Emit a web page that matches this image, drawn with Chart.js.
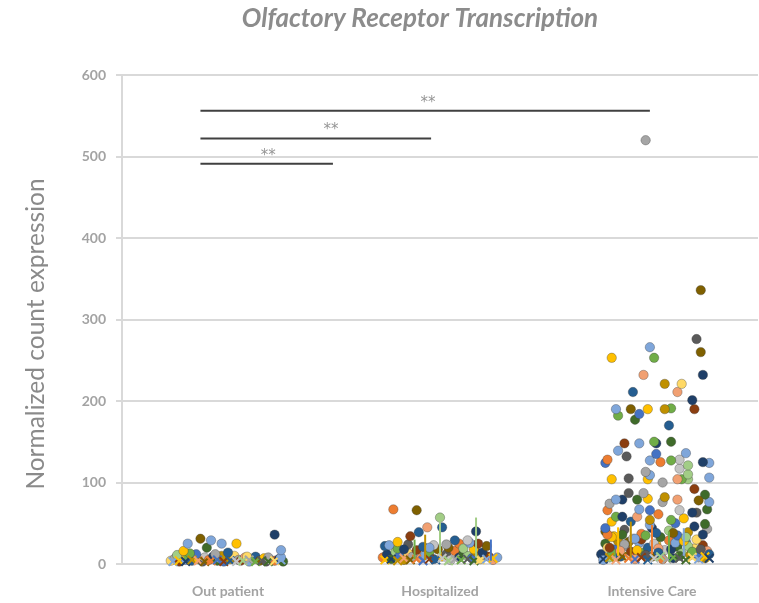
<!DOCTYPE html>
<html>
<head>
<meta charset="utf-8">
<script src="https://cdn.jsdelivr.net/npm/chart.js@4/dist/chart.umd.min.js"></script>
<style>
  html, body { margin: 0; padding: 0; background: #fff; overflow: hidden; }
  canvas { display: block; }
</style>
</head>
<body>
<canvas id="graficoOR" width="759" height="603"></canvas>
<script>
var categories = ['Out patient', 'Hospitalized', 'Intensive Care'];

/* Out patient */
var outX = [0.22,-0.13,-0.08,-0.19,-0.03,0.04,-0.10,-0.21,0.25,-0.18,0.00,-0.06,0.25,
  -0.27,-0.25,-0.23,-0.22,-0.20,-0.19,-0.17,-0.16,-0.14,-0.12,-0.11,-0.09,-0.07,-0.05,-0.04,-0.02,0.01,0.03,0.05,0.06,
  0.08,0.10,0.12,0.13,0.15,0.17,0.18,0.20,0.22,0.24,0.26,-0.24,-0.15,-0.03,0.09,0.19];
var outY = [36,31,29,25,25,25,20,16,17,13,14,12,8,
  4,7,3,9,5,8,4,10,6,3,8,5,9,4,7,3,6,10,5,4,
  8,3,6,9,4,7,3,5,4,6,3,11,12,10,9,8];
var outC = ['NB','OL','LB','LB','LB','Y','DGR','Y','LB','GR','DB','G','LB'];

/* Hospitalized */
var hospX = [0.78,0.89,1.00,1.01,0.94,0.86,0.90,1.17,1.07,0.80,0.76,1.03,1.13,1.14,1.18,1.22,0.74,0.95,1.11,0.83,
  0.73,0.75,0.77,0.79,0.81,0.83,0.85,0.87,0.89,0.91,0.93,0.95,0.97,0.99,1.01,1.03,1.05,1.07,1.09,1.11,
  1.13,1.15,1.17,1.19,1.21,1.23,1.25,1.27,0.80,0.92,1.04,1.16,0.85,0.97,1.09,1.20];
var hospY = [67,66,57,45,45,34,39,40,29,27,23,24,29,26,25,22,22,20,19,18,
  8,12,6,15,10,5,13,9,17,7,11,14,6,18,9,12,5,16,8,13,
  10,7,15,6,11,9,5,8,19,21,20,18,24,23,25,14];
var hospC = ['O','OL','LGR','DB','LO','BR','DB','NB','DB','Y','LB','G','LG','LB','BR','OL','DB','LB','LGR','NB'];

/* Intensive Care */
var icuX = [1.97,2.23,2.21,2.23,1.99,1.81,2.01,1.96,2.24,2.06,2.14,1.91,2.12,2.19,1.83,1.90,1.94,1.98,2.06,2.09,
  2.20,1.84,1.92,2.08,1.87,1.94,2.01,2.02,2.09,1.84,2.02,1.88,2.16,1.79,1.78,1.99,2.04,2.09,2.13,2.24,
  2.27,2.17,2.13,1.97,1.99,2.17,1.81,1.89,1.98,2.05,2.12,2.14,2.17,2.27,2.20,1.89,1.96,2.06,1.98,1.83,
  1.86,1.93,2.12,2.22,2.25,2.27,1.80,2.05,1.79,2.13,2.26,1.94,1.99,2.19,2.21,2.03,1.93,2.15,1.86,1.83,
  2.25,2.09,2.11,1.90,1.81,1.99,1.99,1.78,2.20,1.79,2.02,2.24,2.16,1.86,1.81,
  1.76,1.78,1.80,1.82,1.84,1.86,1.88,1.90,1.92,1.94,1.96,1.98,2.00,2.02,2.04,2.06,2.08,2.10,2.12,2.14,
  2.16,2.18,2.20,2.22,2.24,2.26,1.77,1.81,1.85,1.89,1.93,1.97,2.01,2.05,2.09,2.13,2.17,2.21,2.25,1.79,
  1.87,1.95,2.03,2.11,2.19,2.27,
  1.78,1.82,1.87,1.91,1.95,2.00,2.04,2.08,2.12,2.17,2.21,2.26,1.80,1.85,1.92,1.97,2.03,2.10,2.15,2.23];
var icuY = [520,336,276,260,266,253,253,232,232,221,221,211,211,201,190,190,184,190,190,191,
  190,182,177,170,148,148,150,148,150,139,135,132,136,128,124,127,125,127,128,125,
  124,121,117,113,109,110,104,105,104,100,104,104,104,106,92,87,87,82,80,79,
  79,79,79,78,85,76,74,76,66,66,67,67,66,63,63,61,58,56,58,58,
  49,54,50,52,52,54,48,44,46,36,38,36,33,36,33,
  12,25,8,18,28,10,22,15,6,26,14,20,9,24,12,17,29,7,21,13,
  27,11,19,8,23,16,5,14,9,27,17,11,25,6,18,10,22,13,7,20,
  24,30,19,26,15,12,
  40,34,42,31,37,44,33,41,35,39,30,43,20,16,31,35,14,38,28,18];
var icuC = ['G','OL','DG','OL','LB','Y','GR','LO','NB','DY','LY','DB','LO','NB','LB','OL','B','Y','DY','GR',
  'BR','GR','DGR','DB','BR','LB','GR','NB','DGR','LB','B','DG','LB','O','B','LB','O','GR','LG','NB',
  'LB','LGR','LG','G','LB','LGR','Y','DG','Y','G','LO','GR','LGR','LB','BR','DG','G','DY','Y','LB',
  'NB','DGR','LO','OL','DGR','LB','G','G','O','LG','DGR','LB','B','NB','DG','O','LO','Y','NB','GR',
  'DGR','GR','B','DB','Y','DY','LB','B','NB','O','DB','NB','LGR','DGR','Y'];

/* error bar caps near zero */
var capX = [-0.26,-0.23,-0.20,-0.17,-0.14,-0.11,-0.08,-0.05,-0.02,0.01,0.04,0.07,0.10,0.13,0.16,0.19,0.22,0.25,
  0.74,0.77,0.80,0.83,0.86,0.89,0.92,0.95,0.98,1.01,1.04,1.07,1.10,1.13,1.16,1.19,1.22,1.25,
  1.77,1.80,1.83,1.86,1.89,1.92,1.95,1.98,2.01,2.04,2.07,2.10,2.13,2.16,2.19,2.22,2.25,2.27];
var capY = [3,4,3,5,4,3,4,5,3,4,3,4,5,3,4,3,4,5,
  5,6,4,7,5,6,4,6,5,7,4,6,5,6,4,5,6,7,
  6,8,5,9,7,6,8,5,7,9,6,8,7,5,8,6,9,7];

/* error bar stems */
var stemX = [0.88, 0.93, 1.00, 1.17, 1.24, 1.84, 1.90, 2.00, 2.08, 2.15];
var stemLow = [6, 5, 12, 8, 4, 10, 8, 12, 6, 10];
var stemHigh = [30, 36, 57, 57, 30, 45, 52, 48, 40, 44];

/* significance bars */
var sigFrom = [-0.13, -0.13, -0.13];
var sigTo = [0.495, 0.958, 1.99];
var sigY = [491, 522, 556];
var sigLabelX = [0.19, 0.486, 0.943];
var sigLabel = ['**', '**', '**'];

var pal = {
  B: '#4472C4', LB: '#7FA6DA', NB: '#1F3F68', DB: '#255E91',
  O: '#ED7D31', LO: '#F1A072', BR: '#8B3E10',
  G: '#A5A5A5', LG: '#C4C4C4', DG: '#5A5A5A',
  Y: '#FFC000', LY: '#FFD966', DY: '#BF9000', OL: '#7F6000',
  GR: '#70AD47', LGR: '#A2CD86', DGR: '#3F6B2A'
};
var cycle = ['LB','O','G','Y','B','GR','NB','BR','DG','DY','DB','DGR','LO','LG','LY','OL','LGR'];
var stemCols = ['GR','DY','LGR','LGR','B','Y','DY','O','GR','LB'];

function pointColors(codes, n, shift) {
  var out = [];
  for (var i = 0; i < n; i++) {
    out.push(codes[i] ? pal[codes[i]] : pal[cycle[(i * 5 + shift) % cycle.length]]);
  }
  return out;
}

function toPoints(xs, ys) {
  return xs.map(function (x, i) { return { x: x, y: ys[i] }; });
}

function groupDataset(xs, ys, codes, shift) {
  var cols = pointColors(codes, xs.length, shift);
  // cluster first, labelled points on top
  var order = [];
  for (var i = codes.length; i < xs.length; i++) order.push(i);
  for (var j = codes.length - 1; j >= 0; j--) order.push(j);
  return {
    type: 'scatter',
    data: order.map(function (i) { return { x: xs[i], y: ys[i] }; }),
    pointBackgroundColor: order.map(function (i) { return cols[i]; }),
    pointBorderColor: 'rgba(60,60,60,0.35)',
    pointBorderWidth: 1,
    pointRadius: 4.7,
    clip: false
  };
}

var capColors = capX.map(function (x, i) { return pal[cycle[(i * 3) % cycle.length]]; });

var datasets = [];

for (var k = 0; k < stemX.length; k++) {
  datasets.push({
    type: 'scatter',
    showLine: true,
    data: [{ x: stemX[k], y: stemLow[k] }, { x: stemX[k], y: stemHigh[k] }],
    borderColor: pal[stemCols[k]],
    borderWidth: 2,
    pointRadius: 0
  });
}

datasets.push({
  type: 'scatter',
  data: toPoints(capX, capY),
  pointStyle: 'crossRot',
  pointRadius: 6,
  pointBorderWidth: 2,
  pointBorderColor: capColors,
  pointBackgroundColor: capColors,
  clip: false
});
datasets.push(groupDataset(outX, outY, outC, 0));
datasets.push(groupDataset(hospX, hospY, hospC, 3));
datasets.push(groupDataset(icuX, icuY, icuC, 7));

for (var s = 0; s < sigY.length; s++) {
  datasets.push({
    type: 'scatter',
    showLine: true,
    data: [{ x: sigFrom[s], y: sigY[s] }, { x: sigTo[s], y: sigY[s] }],
    borderColor: '#404040',
    borderWidth: 2,
    pointRadius: 0
  });
}

var sigStars = {
  id: 'sigStars',
  afterDatasetsDraw: function (chart) {
    var c = chart.ctx, xs = chart.scales.x, ys = chart.scales.y;
    c.save();
    c.fillStyle = '#959595';
    c.font = '15px "DejaVu Sans"';
    c.textAlign = 'center';
    c.textBaseline = 'middle';
    for (var i = 0; i < sigLabel.length; i++) {
      c.fillText(sigLabel[i], xs.getPixelForValue(sigLabelX[i]), ys.getPixelForValue(sigY[i]) - 8);
    }
    c.restore();
  }
};

var titlePlugin = {
  id: 'titleOR',
  afterDraw: function (chart) {
    var c = chart.ctx;
    c.save();
    c.fillStyle = '#8c8c8c';
    c.font = 'italic bold 26px Lato';
    c.textAlign = 'center';
    c.textBaseline = 'middle';
    c.fillText('Olfactory Receptor Transcription', 420, 19);
    c.translate(36, 334);
    c.rotate(-Math.PI / 2);
    c.fillStyle = '#8a8a8a';
    c.font = '24.5px Lato';
    c.fillText('Normalized count expression', 0, 0);
    c.restore();
  }
};

var ctx = document.getElementById('graficoOR').getContext('2d');
var chartOR = new Chart(ctx, {
  type: 'scatter',
  data: { datasets: datasets },
  plugins: [sigStars, titlePlugin],
  options: {
    responsive: false,
    animation: false,
    layout: { autoPadding: false, padding: { top: 75, right: 1, left: 0, bottom: 0 } },
    plugins: { legend: { display: false }, tooltip: { enabled: false } },
    scales: {
      x: {
        type: 'linear',
        min: -0.5,
        max: 2.5,
        afterBuildTicks: function (scale) {
          scale.ticks = [{ value: -0.5 }, { value: 0 }, { value: 1 }, { value: 2 }, { value: 2.5 }];
        },
        afterFit: function (scale) {
          scale.height = 39;
          scale.paddingLeft = 0;
          scale.paddingRight = 0;
        },
        grid: { display: false },
        border: { display: false },
        ticks: {
          padding: 11,
          color: '#a3a3a3',
          font: { family: 'Lato', size: 14, weight: 'bold' },
          callback: function (v) { return Number.isInteger(v) ? categories[v] : ''; }
        }
      },
      y: {
        min: 0,
        max: 600,
        afterFit: function (scale) { scale.width = 122; },
        grid: { color: '#d9d9d9', lineWidth: 2, tickLength: 6 },
        border: { color: '#d9d9d9', width: 2 },
        ticks: {
          stepSize: 100,
          padding: 10,
          color: '#a3a3a3',
          font: { family: 'Lato', size: 14, weight: 'bold' }
        }
      }
    }
  }
});
</script>
</body>
</html>
